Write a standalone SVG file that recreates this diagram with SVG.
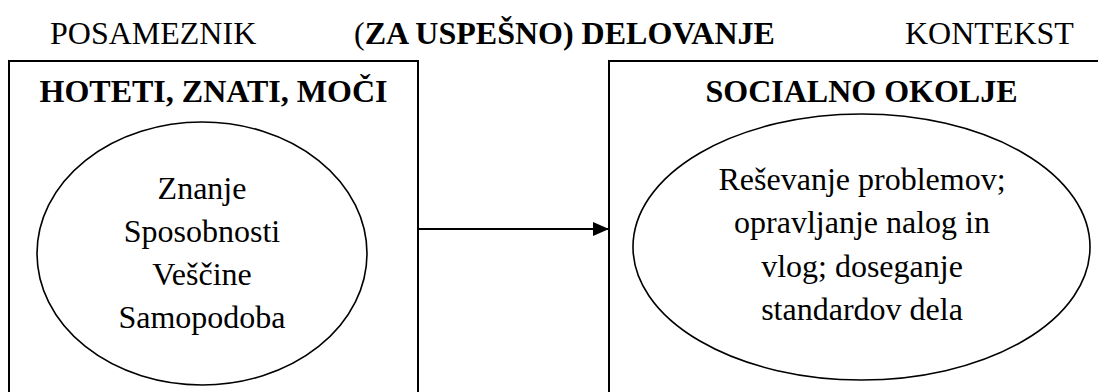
<svg xmlns="http://www.w3.org/2000/svg" width="1098" height="392" viewBox="0 0 1098 392">
<style>
text{font-family:'Liberation Serif','Times New Roman',serif;fill:#000;}
.hdr{font-size:32px;}
.ttl{font-size:32px;font-weight:bold;text-anchor:middle;}
.body{font-size:32px;text-anchor:middle;}
.box{fill:none;stroke:#000;stroke-width:2;}
.ell{fill:none;stroke:#000;stroke-width:1.6;}
.conn{fill:none;stroke:#000;stroke-width:2.2;}
</style>
<defs>
<marker id="arrow" markerWidth="16" markerHeight="14" refX="16" refY="7" orient="auto" markerUnits="userSpaceOnUse">
<path d="M0,0 L16,7 L0,14 Z" fill="#000"/>
</marker>
</defs>
<rect width="1098" height="392" fill="#fff"/>
<g id="headers">
<text class="hdr" x="50" y="44">POSAMEZNIK</text>
<text class="hdr" x="354" y="44">(<tspan font-weight="bold">ZA USPEŠNO) DELOVANJE</tspan></text>
<text class="hdr" x="905" y="44">KONTEKST</text>
</g>
<g id="node-posameznik">
<path class="box" d="M9,392 V61 H418 V392"/>
<text class="ttl" x="213.5" y="102">HOTETI, ZNATI, MOČI</text>
<ellipse class="ell" cx="202" cy="253.5" rx="165" ry="131.5"/>
<text class="body" x="202" y="199">Znanje</text>
<text class="body" x="202" y="242">Sposobnosti</text>
<text class="body" x="202" y="285">Veščine</text>
<text class="body" x="202" y="328">Samopodoba</text>
</g>
<g id="node-kontekst">
<path class="box" d="M609,392 V61 H1098"/>
<text class="ttl" x="861.5" y="102">SOCIALNO OKOLJE</text>
<ellipse class="ell" cx="861.5" cy="247" rx="228.5" ry="133"/>
<text class="body" x="862" y="190">Reševanje problemov;</text>
<text class="body" x="862" y="233">opravljanje nalog in</text>
<text class="body" x="862" y="277">vlog; doseganje</text>
<text class="body" x="862" y="320">standardov dela</text>
</g>
<g id="connectors">
<line class="conn" x1="418" y1="229" x2="609" y2="229" marker-end="url(#arrow)"/>
</g>
</svg>
